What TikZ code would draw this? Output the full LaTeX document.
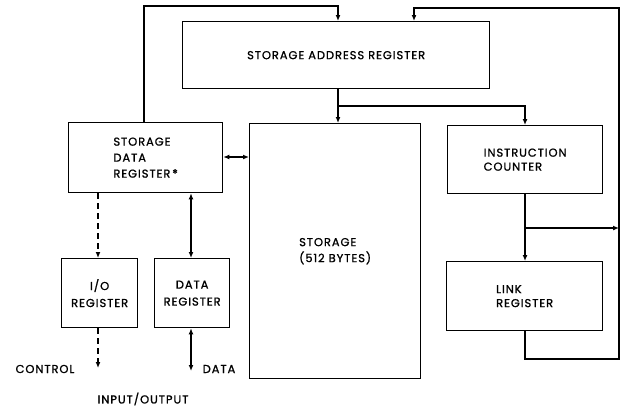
\documentclass[tikz,border=0pt]{standalone}
\usepackage{fontspec}
\setmainfont[LetterSpace=8,FakeBold=1.0]{Poppins}
\usetikzlibrary{arrows.meta}
\begin{document}
\begin{tikzpicture}[x=1pt,y=-1pt,
  box/.style={draw, line width=1.3pt, anchor=north west, inner sep=0pt, font=\fontsize{11.5}{15}\selectfont, align=left},
  lbl/.style={font=\fontsize{11.5}{15}\selectfont},
  conn/.style={line width=1.3pt},
  arr/.style={conn, -{Latex[length=6pt,width=5pt]}},
  darr/.style={conn, {Latex[length=6pt,width=5pt]}-{Latex[length=6pt,width=5pt]}},
  dsh/.style={dash pattern=on 6pt off 4pt}]
\useasboundingbox (0,0) rectangle (621,410);
% boxes
\node[box, minimum width=307pt, minimum height=67pt] (SAR) at (182,21) {STORAGE ADDRESS REGISTER};
\node[box, minimum width=154pt, minimum height=70pt, font=\fontsize{11.5}{16}\selectfont] (SDR) at (68,122) {STORAGE\\DATA\\REGISTER\,*};
\node[box, minimum width=171pt, minimum height=255pt, font=\fontsize{11.5}{16}\selectfont] (ST) at (249,123) {STORAGE\\(512 BYTES)};
\node[box, minimum width=155pt, minimum height=68pt, font=\fontsize{11.5}{14}\selectfont] (IC) at (447,125) {INSTRUCTION\\COUNTER};
\node[box, minimum width=156pt, minimum height=69pt, font=\fontsize{11.5}{14}\selectfont] (LR) at (446,261) {LINK\\REGISTER};
\node[box, minimum width=76pt, minimum height=69pt, align=center, font=\fontsize{11.5}{17}\selectfont] (IO) at (61,258) {I/O\\REGISTER};
\node[box, minimum width=75pt, minimum height=69pt, align=center, font=\fontsize{11.5}{17}\selectfont] (DR) at (154,258) {DATA\\REGISTER};
% labels
\node[lbl] (ctl) at (45,369) {CONTROL};
\node[lbl] (dat) at (219,369) {DATA};
\node[lbl] (io) at (143,399) {INPUT/OUTPUT};
% coordinates
\coordinate (a1) at (144,6);
\coordinate (a2) at (338,6);
\coordinate (b) at (338,106);
\coordinate (c) at (525,106);
\coordinate (d) at (525,228);
\coordinate (e) at (619,228);
\coordinate (f) at (525,359);
\coordinate (g) at (619,359);
\coordinate (h) at (619,8);
\coordinate (k) at (414,8);
\coordinate (m) at (0,157);
\coordinate (n) at (98,0);
\coordinate (p) at (191,0);
\coordinate (ce) at (98,368);
\coordinate (de) at (191,371);
% connectors
\draw[arr] (SDR.north -| a1) -- (a1) -- (a2) -- (SAR.north -| a2);
\draw[arr] (SAR.south -| b) -- (ST.north -| b);
\draw[arr] (b) -- (c) -- (IC.north -| c);
\draw[arr] (IC.south -| c) -- (LR.north -| c);
\draw[arr] (d) -- (e);
\draw[arr] (LR.south -| f) -- (f) -- (g) -- (h) -- (k) -- (SAR.north -| k);
\draw[darr] (SDR.east |- m) -- (ST.west |- m);
\draw[arr,dsh] (SDR.south -| n) -- (IO.north -| n);
\draw[arr,dsh] (IO.south -| n) -- (ce);
\draw[darr] (SDR.south -| p) -- (DR.north -| p);
\draw[darr] (DR.south -| p) -- (de);
\end{tikzpicture}
\end{document}
